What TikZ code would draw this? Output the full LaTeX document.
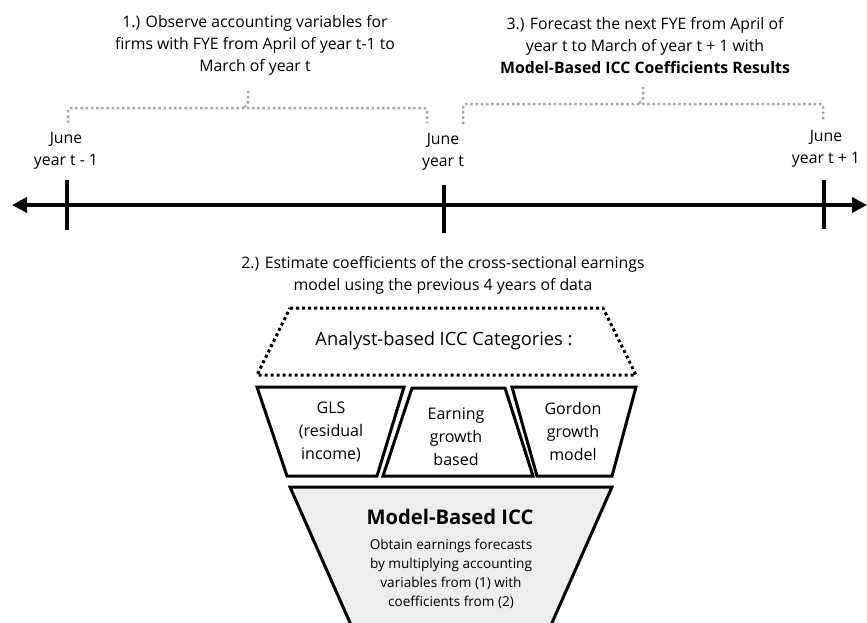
\documentclass[tikz,border=0pt]{standalone}
\usepackage{fontspec}
\setmainfont{Open Sans}
\usetikzlibrary{arrows.meta}
\definecolor{bracegray}{HTML}{A6A6A6}
\definecolor{boxfill}{HTML}{EDEDED}
\begin{document}
\begin{tikzpicture}[x=1pt,y=-1pt,
  txt/.style={font=\fontsize{15.8}{22}\selectfont, align=center, inner sep=0pt},
  cat/.style={font=\fontsize{16}{23}\selectfont, align=center, inner sep=0pt},
  head/.style={font=\fontsize{18.3}{22}\selectfont, inner sep=0pt},
  small/.style={font=\fontsize{13.6}{19}\selectfont, align=center, inner sep=0pt},
  big/.style={font=\fontsize{20.2}{24}\selectfont\bfseries, inner sep=0pt},
  timeline/.style={line width=4pt, {Triangle[length=15pt,width=15pt]}-{Triangle[length=15pt,width=15pt]}},
  tickmark/.style={line width=4pt},
  bracepath/.style={bracegray, line width=2.5pt, dash pattern=on 2.5pt off 2.7pt, rounded corners=3pt},
  catbox/.style={line width=3pt, line join=miter},
  dotbox/.style={line width=3pt, dash pattern=on 3pt off 3pt}
]
\useasboundingbox (0,0) rectangle (867,622);

% timeline
\coordinate (L) at (12,205);
\coordinate (R) at (867,205);
\draw[timeline] (L) -- (R);
\coordinate (t0a) at (67,180); \coordinate (t0b) at (67,230);
\coordinate (t1a) at (444,185); \coordinate (t1b) at (444,233);
\coordinate (t2a) at (824,180); \coordinate (t2b) at (824,229);
\draw[tickmark] (t0a) -- (t0b);
\draw[tickmark] (t1a) -- (t1b);
\draw[tickmark] (t2a) -- (t2b);

% tick labels
\node[txt] (j0) at (66,151) {June\\year t - 1};
\node[txt] (j1) at (443,152) {June\\year t};
\node[txt] (j2) at (826,149) {June\\year t + 1};

% step texts
\node[txt] (s1) at (255,45) {1.) Observe accounting variables for\\firms with FYE from April of year t-1 to\\March of year t};
\node[txt] (s3) at (645,46) {3.) Forecast the next FYE from April of\\year t to March of year t + 1 with\\\textbf{Model-Based ICC Coefficients Results}};
\node[txt] (s2) at (443,275) {2.) Estimate coefficients of the cross-sectional earnings\\model using the previous 4 years of data};

% braces
\draw[bracepath] (68,123) -- (68,108) -- (427,108) -- (427,123);
\draw[bracegray, line width=2.5pt, dash pattern=on 2.5pt off 2.7pt] (244,107) .. controls (249,106) and (248,101) .. (248,91);
\draw[bracepath] (463,124) -- (463,104) -- (823,104) -- (823,121);
\draw[bracegray, line width=2.5pt, dash pattern=on 2.5pt off 2.7pt] (639,103) .. controls (644,102) and (643,97) .. (643,87);

% analyst dotted trapezoid
\draw[dotbox] (290,308) -- (603,308) -- (636,375) -- (257,375) -- cycle;
\node[head] (an) at (444,341) {Analyst-based ICC Categories :};

% categories
\draw[catbox] (257,387) -- (404,387) -- (377,476) -- (287,476) -- cycle;
\node[cat] (gls) at (331,432) {GLS\\(residual\\income)};
\draw[catbox] (412,388) -- (505,388) -- (533,476) -- (383,476) -- cycle;
\node[cat] (egb) at (456,437) {Earning\\growth\\based};
\draw[catbox] (512,387) -- (636,387) -- (612,476) -- (537,476) -- cycle;
\node[cat] (ggm) at (573,431) {Gordon\\growth\\model};

% model based
\draw[catbox, fill=boxfill] (290,487) -- (612,487) -- (551,625) -- (351,625) -- cycle;
\node[big] (mb) at (450,517) {Model-Based ICC};
\node[small] (mbt) at (451,574) {Obtain earnings forecasts\\by multiplying accounting\\variables from (1) with\\coefficients from (2)};
\end{tikzpicture}
\end{document}
